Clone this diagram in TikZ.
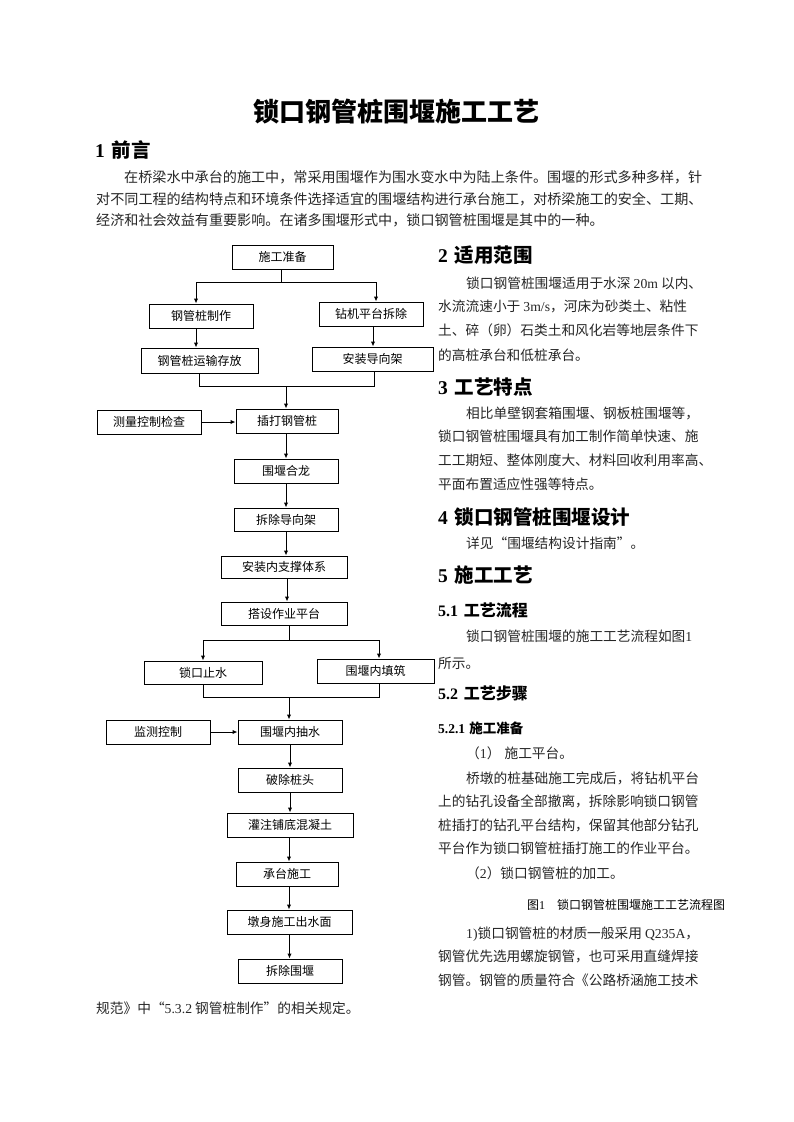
\documentclass[tikz,border=0pt]{standalone}
\usepackage{fontspec}
\setmainfont{Noto Sans CJK SC}
\newfontfamily\tnr{Liberation Serif}
\usetikzlibrary{arrows.meta}
\tikzset{
  fbox/.style={draw, line width=1pt, inner sep=0pt, font=\fontsize{12}{12}\selectfont},
  ln/.style={line width=1pt},
  arr/.style={line width=1pt, -{Latex[length=5pt,width=4.5pt]}},
  body/.style={anchor=base west, inner sep=0pt, text=black!85, font=\fontsize{13.7}{14}\selectfont},
  ibody/.style={body, font=\fontsize{14.1}{14}\selectfont},
  htitle/.style={anchor=base, inner sep=0pt, font=\fontsize{26}{26}\selectfont\bfseries},
  hone/.style={anchor=base west, inner sep=0pt, font=\fontsize{19.5}{20}\selectfont\bfseries},
  htwo/.style={anchor=base west, inner sep=0pt, font=\fontsize{16}{16}\selectfont\bfseries},
  hthree/.style={anchor=base west, inner sep=0pt, font=\fontsize{13.5}{14}\selectfont\bfseries},
  capt/.style={anchor=base west, inner sep=0pt, font=\fontsize{12}{12}\selectfont},
}
\newcommand\fbx[6]{\node[fbox, minimum width={#4-#2}, minimum height={#5-#3}] (#1) at ({(#2+#4)/2},{(#3+#5)/2}) {#6};}
\begin{document}
\begin{tikzpicture}[x=1pt,y=-1pt]
\fill[white] (0,0) rectangle (793,1122);
\useasboundingbox (0,0) rectangle (793,1122);

% ---------- title and intro ----------
\node[htitle] (title) at (396,121.9) {锁口钢管桩围堰施工工艺};
\node[hone] (h1) at (95,157.6) {{\tnr 1}\hspace{0.35em}前言};
\node[ibody] (p1) at (124,182.3) {在桥梁水中承台的施工中，常采用围堰作为围水变水中为陆上条件。围堰的形式多种多样，针};
\node[ibody] (p2) at (96,204.3) {对不同工程的结构特点和环境条件选择适宜的围堰结构进行承台施工，对桥梁施工的安全、工期、};
\node[ibody] (p3) at (96,225.3) {经济和社会效益有重要影响。在诸多围堰形式中，锁口钢管桩围堰是其中的一种。};

% ---------- flowchart boxes ----------
\fbx{sg}{232}{245}{333}{269}{施工准备}
\fbx{zz}{149}{304}{253}{328}{钢管桩制作}
\fbx{zj}{319}{302}{423}{326}{钻机平台拆除}
\fbx{ys}{141}{348}{258}{373}{钢管桩运输存放}
\fbx{dx}{312}{347}{433}{371}{安装导向架}
\fbx{cl}{97}{410}{201}{434}{测量控制检查}
\fbx{cd}{236}{409}{338}{433}{插打钢管桩}
\fbx{hl}{234}{459}{338}{483}{围堰合龙}
\fbx{cc}{234}{508}{338}{531}{拆除导向架}
\fbx{nz}{221}{556}{347}{578}{安装内支撑体系}
\fbx{pt}{221}{602}{347}{625}{搭设作业平台}
\fbx{sk}{144}{661}{262}{684}{锁口止水}
\fbx{tz}{317}{659}{434}{683}{围堰内填筑}
\fbx{jc}{106}{720}{210}{744}{监测控制}
\fbx{cs}{238}{720}{342}{744}{围堰内抽水}
\fbx{pc}{238}{768}{342}{792}{破除桩头}
\fbx{gz}{227}{813}{353}{837}{灌注铺底混凝土}
\fbx{ct}{236}{862}{338}{886}{承台施工}
\fbx{ds}{227}{910}{352}{934}{墩身施工出水面}
\fbx{cw}{238}{959}{342}{983}{拆除围堰}

% ---------- connector coordinates ----------
\coordinate (a1) at (281,282);
\coordinate (a1l) at (196,282);
\coordinate (a1r) at (376,282);
\coordinate (xr) at (373,0);
\coordinate (m1l) at (199,386);
\coordinate (m1r) at (374,386);
\coordinate (m1) at (286,386);
\coordinate (s2) at (289,640);
\coordinate (s2l) at (203,640);
\coordinate (s2r) at (379,640);
\coordinate (m2l) at (203,697);
\coordinate (m2r) at (379,697);
\coordinate (m2) at (289,697);

% ---------- connectors ----------
\draw[ln] (sg.south -| a1) -- (a1);
\draw[ln] (a1l) -- (a1r);
\draw[arr] (a1l) -- (a1l |- zz.north);
\draw[arr] (a1r) -- (a1r |- zj.north);
\draw[arr] (a1l |- zz.south) -- (a1l |- ys.north);
\draw[arr] (xr |- zj.south) -- (xr |- dx.north);
\draw[ln] (m1l |- ys.south) -- (m1l) -- (m1r) -- (m1r |- dx.south);
\draw[arr] (m1) -- (m1 |- cd.north);
\draw[arr] (cl.east) -- (cl.east -| cd.west);
\draw[arr] (m1 |- cd.south) -- (m1 |- hl.north);
\draw[arr] (m1 |- hl.south) -- (m1 |- cc.north);
\draw[arr] (m1 |- cc.south) -- (m1 |- nz.north);
\draw[arr] ([xshift=3pt]nz.south) -- ([xshift=3pt]nz.south |- pt.north);
\draw[ln] (s2 |- pt.south) -- (s2);
\draw[ln] (s2l) -- (s2r);
\draw[arr] (s2l) -- (s2l |- sk.north);
\draw[arr] (s2r) -- (s2r |- tz.north);
\draw[ln] (m2l |- sk.south) -- (m2l) -- (m2r) -- (m2r |- tz.south);
\draw[arr] (m2) -- (m2 |- cs.north);
\draw[arr] (jc.east) -- (jc.east -| cs.west);
\draw[arr] (cs.south) -- (cs.south |- pc.north);
\draw[arr] (pc.south) -- (pc.south |- gz.north);
\draw[arr] (m2 |- gz.south) -- (m2 |- ct.north);
\draw[arr] (m2 |- ct.south) -- (m2 |- ds.north);
\draw[arr] (ds.south) -- (ds.south |- cw.north);

% ---------- right column ----------
\node[hone] (h2) at (438,262.4) {{\tnr 2}\hspace{0.35em}适用范围};
\node[body] (r1) at (466,288.5) {锁口钢管桩围堰适用于水深 {\tnr 20m} 以内、};
\node[body] (r2) at (438,311.9) {水流流速小于 {\tnr 3m/s}，河床为砂类土、粘性};
\node[body] (r3) at (438,335.9) {土、碎（卵）石类土和风化岩等地层条件下};
\node[body] (r4) at (438,360.2) {的高桩承台和低桩承台。};

\node[hone] (h3) at (438,394.1) {{\tnr 3}\hspace{0.35em}工艺特点};
\node[body] (r5) at (466,418.5) {相比单壁钢套箱围堰、钢板桩围堰等，};
\node[body] (r6) at (438,441.9) {锁口钢管桩围堰具有加工制作简单快速、施};
\node[body] (r7) at (438,465.2) {工工期短、整体刚度大、材料回收利用率高、};
\node[body] (r8) at (438,489.5) {平面布置适应性强等特点。};

\node[hone] (h4) at (438,524.1) {{\tnr 4}\hspace{0.35em}锁口钢管桩围堰设计};
\node[body] (r9) at (466,548.5) {详见“围堰结构设计指南”。};

\node[hone] (h5) at (438,582.4) {{\tnr 5}\hspace{0.35em}施工工艺};
\node[htwo] (h51) at (438,616.1) {{\tnr 5.1}\hspace{0.35em}工艺流程};
\node[body] (r10) at (466,641.9) {锁口钢管桩围堰的施工工艺流程如图{\tnr 1}};
\node[body] (r11) at (438,668.5) {所示。};
\node[htwo] (h52) at (438,699.4) {{\tnr 5.2}\hspace{0.35em}工艺步骤};
\node[hthree] (h521) at (438,733.4) {{\tnr 5.2.1}\hspace{0.3em}施工准备};
\node[body] (r12) at (466,758.5) {（{\tnr 1}）\hspace{0.3em}施工平台。};
\node[body] (r13) at (466,783.5) {桥墩的桩基础施工完成后，将钻机平台};
\node[body] (r14) at (438,806.9) {上的钻孔设备全部撤离，拆除影响锁口钢管};
\node[body] (r15) at (438,830.2) {桩插打的钻孔平台结构，保留其他部分钻孔};
\node[body] (r16) at (438,853.5) {平台作为锁口钢管桩插打施工的作业平台。};
\node[body] (r17) at (466,878.5) {（{\tnr 2}）锁口钢管桩的加工。};
\node[capt] (cap) at (527,909.6) {图{\tnr 1}\hspace{1em}锁口钢管桩围堰施工工艺流程图};
\node[body] (r18) at (466,938.5) {{\tnr 1)}锁口钢管桩的材质一般采用 {\tnr Q235A}，};
\node[body] (r19) at (438,961.9) {钢管优先选用螺旋钢管，也可采用直缝焊接};
\node[body] (r20) at (438,985.2) {钢管。钢管的质量符合《公路桥涵施工技术};
\node[body] (r21) at (96,1013.2) {规范》中“{\tnr 5.3.2} 钢管桩制作”的相关规定。};
\end{tikzpicture}
\end{document}
